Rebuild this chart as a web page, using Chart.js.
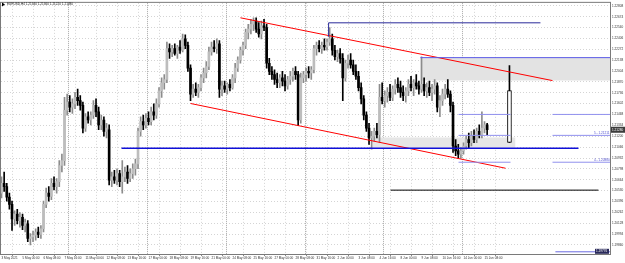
<!DOCTYPE html>
<html><head><meta charset="utf-8">
<script src="https://cdn.jsdelivr.net/npm/chart.js@4.4.0/dist/chart.umd.min.js"></script>
<style>html,body{margin:0;padding:0;background:#fff;overflow:hidden}canvas{display:block}</style>
</head><body>
<canvas id="c" width="625" height="263"></canvas>
<script>
// ---- data (EURUSD H4) ----
const openP = [
1.2050,1.2062,1.2058,1.2045,1.2036,1.2018,1.2024,1.2016,1.2020,1.2010,
1.2012,1.1994,1.1996,1.1998,1.2002,1.1999,1.2006,1.2036,1.2050,1.2046,
1.2062,1.2058,1.2064,1.2084,1.2090,1.2152,1.2162,1.2156,1.2160,1.2168,
1.2164,1.2158,1.2130,1.2144,1.2140,1.2146,1.2158,1.2150,1.2134,1.2140,
1.2126,1.2128,1.2066,1.2070,1.2066,1.2074,1.2064,1.2070,1.2076,1.2068,
1.2074,1.2080,1.2086,1.2126,1.2138,1.2134,1.2142,1.2138,1.2150,1.2146,
1.2160,1.2176,1.2186,1.2190,1.2228,1.2224,1.2228,1.2222,1.2230,1.2226,
1.2240,1.2232,1.2204,1.2172,1.2178,1.2174,1.2180,1.2192,1.2198,1.2206,
1.2224,1.2230,1.2228,1.2234,1.2178,1.2182,1.2178,1.2184,1.2180,1.2192,
1.2204,1.2214,1.2226,1.2232,1.2248,1.2252,1.2258,1.2262,1.2252,1.2246,
1.2256,1.2254,1.2210,1.2200,1.2196,1.2190,1.2186,1.2192,1.2188,1.2182,
1.2190,1.2194,1.2200,1.2196,1.2140,1.2192,1.2196,1.2200,1.2198,1.2202,
1.2228,1.2232,1.2228,1.2232,1.2230,1.2236,1.2240,1.2226,1.2218,1.2222,
1.2216,1.2192,1.2210,1.2214,1.2208,1.2200,1.2194,1.2180,1.2166,1.2146,
1.2130,1.2118,1.2120,1.2126,1.2122,1.2168,1.2164,1.2170,1.2174,1.2168,
1.2178,1.2184,1.2180,1.2174,1.2170,1.2176,1.2184,1.2180,1.2186,1.2182,
1.2178,1.2184,1.2176,1.2180,1.2174,1.2178,1.2182,1.2156,1.2164,1.2172,
1.2178,1.2172,1.2158,1.2108,1.2102,1.2098,1.2102,1.2108,1.2116,1.2112,
1.2120,1.2116,1.2126,1.2122,1.2130,1.2134];
const highP = [
1.2070,1.2076,1.2062,1.2050,1.2040,1.2028,1.2030,1.2026,1.2024,1.2018,
1.2016,1.2000,1.2003,1.2006,1.2008,1.2010,1.2040,1.2056,1.2058,1.2068,
1.2070,1.2068,1.2090,1.2098,1.2168,1.2172,1.2170,1.2166,1.2174,1.2178,
1.2170,1.2162,1.2148,1.2150,1.2150,1.2164,1.2166,1.2156,1.2146,1.2144,
1.2136,1.2134,1.2076,1.2078,1.2080,1.2078,1.2090,1.2082,1.2084,1.2080,
1.2086,1.2092,1.2130,1.2144,1.2146,1.2148,1.2150,1.2156,1.2160,1.2166,
1.2180,1.2192,1.2196,1.2236,1.2234,1.2232,1.2234,1.2232,1.2238,1.2246,
1.2245,1.2236,1.2208,1.2184,1.2186,1.2184,1.2196,1.2204,1.2212,1.2230,
1.2236,1.2238,1.2240,1.2238,1.2188,1.2188,1.2186,1.2190,1.2196,1.2210,
1.2218,1.2230,1.2236,1.2252,1.2258,1.2264,1.2266,1.2266,1.2260,1.2262,
1.2264,1.2258,1.2216,1.2206,1.2202,1.2198,1.2196,1.2200,1.2196,1.2194,
1.2200,1.2204,1.2206,1.2200,1.2198,1.2200,1.2204,1.2206,1.2206,1.2232,
1.2236,1.2238,1.2236,1.2240,1.2240,1.2254,1.2246,1.2232,1.2226,1.2228,
1.2222,1.2214,1.2220,1.2222,1.2214,1.2208,1.2200,1.2186,1.2170,1.2150,
1.2136,1.2126,1.2130,1.2136,1.2184,1.2186,1.2176,1.2180,1.2184,1.2182,
1.2190,1.2192,1.2188,1.2182,1.2180,1.2190,1.2194,1.2190,1.2196,1.2188,
1.2218,1.2192,1.2186,1.2188,1.2184,1.2190,1.2186,1.2170,1.2178,1.2184,
1.2190,1.2176,1.2162,1.2116,1.2110,1.2106,1.2112,1.2120,1.2124,1.2126,
1.2128,1.2130,1.2134,1.2150,1.2138,1.2136];
const lowP = [
1.2044,1.2052,1.2040,1.2030,1.2004,1.2010,1.2012,1.2008,1.2005,1.2002,
1.1990,1.1986,1.1990,1.1992,1.1995,1.1994,1.2002,1.2032,1.2040,1.2042,
1.2054,1.2050,1.2058,1.2076,1.2084,1.2146,1.2150,1.2148,1.2154,1.2158,
1.2152,1.2124,1.2126,1.2136,1.2134,1.2142,1.2144,1.2128,1.2128,1.2120,
1.2118,1.2060,1.2058,1.2062,1.2060,1.2058,1.2050,1.2064,1.2062,1.2064,
1.2068,1.2072,1.2080,1.2120,1.2128,1.2130,1.2134,1.2134,1.2140,1.2142,
1.2156,1.2168,1.2178,1.2186,1.2216,1.2218,1.2220,1.2216,1.2222,1.2224,
1.2228,1.2200,1.2164,1.2168,1.2170,1.2168,1.2176,1.2186,1.2192,1.2202,
1.2220,1.2224,1.2222,1.2168,1.2170,1.2174,1.2172,1.2176,1.2178,1.2186,
1.2200,1.2210,1.2220,1.2228,1.2240,1.2246,1.2250,1.2248,1.2242,1.2240,
1.2250,1.2204,1.2196,1.2190,1.2184,1.2180,1.2180,1.2182,1.2176,1.2178,
1.2184,1.2188,1.2190,1.2133,1.2136,1.2186,1.2188,1.2192,1.2190,1.2198,
1.2220,1.2224,1.2222,1.2226,1.2226,1.2232,1.2220,1.2214,1.2212,1.2210,
1.2164,1.2188,1.2204,1.2204,1.2196,1.2190,1.2176,1.2160,1.2140,1.2126,
1.2110,1.2104,1.2114,1.2118,1.2112,1.2160,1.2156,1.2162,1.2164,1.2164,
1.2172,1.2174,1.2168,1.2164,1.2162,1.2170,1.2176,1.2170,1.2178,1.2172,
1.2174,1.2170,1.2168,1.2170,1.2164,1.2172,1.2150,1.2144,1.2158,1.2166,
1.2168,1.2150,1.2100,1.2096,1.2093,1.2093,1.2098,1.2104,1.2106,1.2108,
1.2112,1.2112,1.2118,1.2118,1.2124,1.2122];
const closeP = [
1.2062,1.2058,1.2045,1.2036,1.2018,1.2024,1.2016,1.2020,1.2010,1.2014,
1.1994,1.1996,1.1998,1.2002,1.1999,1.2006,1.2036,1.2050,1.2046,1.2062,
1.2058,1.2064,1.2084,1.2090,1.2152,1.2162,1.2156,1.2160,1.2168,1.2164,
1.2158,1.2130,1.2144,1.2140,1.2146,1.2158,1.2150,1.2134,1.2140,1.2126,
1.2130,1.2066,1.2070,1.2066,1.2074,1.2064,1.2070,1.2076,1.2068,1.2074,
1.2080,1.2086,1.2126,1.2138,1.2134,1.2142,1.2138,1.2150,1.2146,1.2160,
1.2176,1.2186,1.2190,1.2228,1.2224,1.2228,1.2222,1.2230,1.2226,1.2240,
1.2232,1.2204,1.2172,1.2178,1.2174,1.2180,1.2192,1.2198,1.2206,1.2224,
1.2230,1.2228,1.2234,1.2178,1.2182,1.2178,1.2184,1.2180,1.2192,1.2204,
1.2214,1.2226,1.2232,1.2248,1.2252,1.2258,1.2262,1.2252,1.2246,1.2256,
1.2254,1.2210,1.2200,1.2196,1.2190,1.2186,1.2192,1.2188,1.2182,1.2190,
1.2194,1.2200,1.2196,1.2140,1.2192,1.2196,1.2200,1.2198,1.2202,1.2228,
1.2232,1.2228,1.2232,1.2230,1.2236,1.2240,1.2226,1.2218,1.2222,1.2216,
1.2192,1.2210,1.2214,1.2208,1.2200,1.2194,1.2180,1.2166,1.2146,1.2130,
1.2118,1.2120,1.2126,1.2122,1.2168,1.2164,1.2170,1.2174,1.2168,1.2178,
1.2184,1.2180,1.2174,1.2170,1.2176,1.2184,1.2180,1.2186,1.2182,1.2178,
1.2184,1.2176,1.2180,1.2174,1.2178,1.2182,1.2156,1.2164,1.2172,1.2178,
1.2172,1.2158,1.2108,1.2102,1.2098,1.2102,1.2108,1.2116,1.2112,1.2120,
1.2116,1.2126,1.2122,1.2130,1.2134,1.2128];

const dateLabels = ["3 May 2021","5 May 00:00","6 May 08:00","7 May 16:00","11 May 00:00","12 May 08:00",
"13 May 16:00","17 May 00:00","18 May 08:00","19 May 16:00","21 May 00:00","24 May 08:00",
"25 May 16:00","27 May 00:00","28 May 08:00","31 May 16:00","2 Jun 00:00","3 Jun 08:00",
"4 Jun 16:00","8 Jun 00:00","9 Jun 08:00","10 Jun 16:00","14 Jun 00:00","15 Jun 08:00"];
const dateLabelBars = [0,8,16,24,32,40,48,56,64,72,80,88,96,104,112,120,128,136,144,152,160,168,176,184];
const priceTicks = [1.22808,1.22674,1.22540,1.22406,1.22272,1.22138,1.22004,1.21870,1.21736,1.21602,
1.21468,1.21334,1.21200,1.21066,1.20932,1.20798,1.20664,1.20530,1.20396,1.20262,1.20128,1.19994,1.19860];
const weekStartBars = [26,56,86,116,146,176];
const symbolTitle = "EURUSD,H4 1.21340 1.21360 1.21220 1.21280";

// drawn objects (bar index, price)
const chanUpX = [91.0, 209.9], chanUpY = [1.22660, 1.21886];
const chanLoX = [72.0, 192.0], chanLoY = [1.21604, 1.20806];
const supportX = [45.7, 219.8], supportY = 1.21051;
const bracketX = [124.6, 124.6, 205.3], bracketY = [1.22426, 1.22598, 1.22598];
const zoneTopX = [159.6, 231.8], zoneTopHi = 1.22169, zoneTopLo = 1.21886;
const zoneMidX = [141.3, 195.8], zoneMidHi = 1.21186, zoneMidLo = 1.21051;
const blackLineX = [148.2, 227.4], blackLineY = 1.20536;
const fibX1 = [174.1, 193.9], fibX2 = [209.9, 231.8];
const fibY = [1.21469, 1.21211, 1.20880];
const fibLabels = ["5 - 1.21211", "4 - 1.20880"];
const projX = 193.5, projOpen = 1.21125, projClose = 1.21764, projHigh = 1.22070, projLow = 1.21125;
const bottomLineX = [211.0, 231.8], bottomLineY = 1.19776;

// ---- build ----
const n = closeP.length;
const wickData = [], bodyData = [], bodyCol = [], wickCol = [];
for (let i = 0; i < n; i++) {
  wickData.push({x: i, y: [lowP[i], highP[i]]});
  const o = openP[i], c = closeP[i];
  bodyData.push({x: i, y: [o, c === o ? c + 0.00003 : c]});
  const bull = c >= o;
  bodyCol.push(bull ? '#bdbdbd' : '#000000');
  wickCol.push(bull ? '#8c8c8c' : '#000000');
}
const seg = (xs, ys, color, w, extra) => Object.assign({
  type: 'line', data: xs.map((x, k) => ({x, y: Array.isArray(ys) ? ys[k] : ys})),
  borderColor: color, borderWidth: w, pointRadius: 0, fill: false, order: 0, tension: 0
}, extra || {});

const datasets = [
  seg(zoneTopX, zoneTopHi, 'rgba(0,0,0,0)', 0, {fill: {value: zoneTopLo}, backgroundColor: '#e3e3e3', order: 9}),
  seg(zoneMidX, zoneMidHi, 'rgba(0,0,0,0)', 0, {fill: {value: zoneMidLo}, backgroundColor: '#e6e6e6', order: 9}),
  {type: 'bar', data: wickData, backgroundColor: wickCol, barThickness: 1, grouped: false, order: 3},
  {type: 'bar', data: bodyData, backgroundColor: bodyCol, barThickness: 2, grouped: false, order: 2},
  {type: 'bar', data: [{x: projX, y: [projLow, projHigh]}], backgroundColor: '#000', barThickness: 1, grouped: false, order: 2},
  {type: 'bar', data: [{x: projX, y: [projOpen, projClose]}], backgroundColor: '#fff', borderColor: '#000', borderWidth: 1, borderSkipped: false, barThickness: 4, grouped: false, order: 1},
  seg(zoneTopX, zoneTopHi, '#5a5ae6', 1),
  seg(fibX1, fibY[0], '#9090ee', 1), seg(fibX2, fibY[0], '#9090ee', 1),
  seg(fibX1, fibY[1], '#9090ee', 1), seg(fibX2, fibY[1], '#9090ee', 1),
  seg(fibX1, fibY[2], '#9090ee', 1), seg(fibX2, fibY[2], '#9090ee', 1),
  seg(supportX, supportY, '#1010d8', 1.5),
  seg(bracketX, bracketY, '#2a2a9a', 1),
  seg(blackLineX, blackLineY, '#000000', 1),
  seg(bottomLineX, bottomLineY, '#6a6ae0', 1),
  seg(chanUpX, chanUpY, '#ff0000', 1),
  seg(chanLoX, chanLoY, '#ff0000', 1)
];

const font = {family: 'Liberation Sans, Arial, sans-serif', size: 3.1};

const overlay = {
  id: 'overlay',
  beforeDatasetsDraw(chart) {
    const {ctx, chartArea: a, scales: {x}} = chart;
    ctx.save();
    ctx.strokeStyle = '#a8a8a8'; ctx.lineWidth = 1; ctx.setLineDash([1, 1]);
    weekStartBars.forEach(b => {
      const px = Math.round(x.getPixelForValue(b - 0.5)) + 0.5;
      ctx.beginPath(); ctx.moveTo(px, a.top); ctx.lineTo(px, a.bottom); ctx.stroke();
    });
    ctx.restore();
  },
  afterDraw(chart) {
    const {ctx, chartArea: a, scales: {y}} = chart;
    ctx.save();
    ctx.strokeStyle = '#7a7a7a'; ctx.lineWidth = 1;
    ctx.strokeRect(a.left - 0.5, a.top - 0.5, a.right - a.left + 1, a.bottom - a.top + 1);
    // title
    ctx.fillStyle = '#000';
    ctx.beginPath(); ctx.moveTo(2, 2.5); ctx.lineTo(5, 4.5); ctx.lineTo(2, 6.5); ctx.fill();
    ctx.font = '3.1px Liberation Sans, Arial, sans-serif';
    ctx.textBaseline = 'middle'; ctx.fillStyle = '#202020';
    ctx.fillText(symbolTitle, 7, 4.6);
    // fib labels
    ctx.fillStyle = '#5050d0';
    fibLabels.forEach((t, k) => {
      const py = y.getPixelForValue(fibY[k + 1]);
      ctx.fillText(t, 594, py - 2);
    });
    // current price box
    const last = closeP[n - 1];
    const py = y.getPixelForValue(last);
    ctx.fillStyle = '#3c3c3c';
    ctx.fillRect(611, py - 3, 14, 6);
    ctx.fillStyle = '#ffffff';
    ctx.fillText(last.toFixed(5), 612, py + 0.2);
    // bottom line box
    const pb = y.getPixelForValue(bottomLineY);
    ctx.fillStyle = '#2a2a5a';
    ctx.fillRect(595, pb - 3, 14, 5);
    ctx.fillStyle = '#ffffff';
    ctx.fillText(bottomLineY.toFixed(5), 596, pb - 0.4);
    ctx.restore();
  }
};

new Chart(document.getElementById('c'), {
  type: 'bar',
  data: {datasets},
  options: {
    responsive: false, animation: false, events: [],
    layout: {padding: {left: 1, top: 2, right: 0, bottom: 0}},
    plugins: {legend: {display: false}, tooltip: {enabled: false}, title: {display: false}},
    scales: {
      x: {
        type: 'linear', min: -0.2, max: 231.8, offset: false,
        afterFit(s) { s.height = 9; },
        afterBuildTicks(s) { s.ticks = dateLabelBars.map(v => ({value: v})); },
        grid: {color: '#d4d4d4', lineWidth: 1, drawTicks: true, tickLength: 2, tickColor: '#888'},
        border: {display: false, dash: [1, 2]},
        ticks: {autoSkip: false, maxRotation: 0, align: 'start', padding: 0, color: '#303030', font,
          callback: v => dateLabels[dateLabelBars.indexOf(v)] || ''}
      },
      y: {
        type: 'linear', position: 'right', min: 1.19749, max: 1.22844,
        afterFit(s) { s.width = 15; },
        afterBuildTicks(s) { s.ticks = priceTicks.map(v => ({value: v})); },
        grid: {color: '#d4d4d4', lineWidth: 1, drawTicks: true, tickLength: 1, tickColor: '#888'},
        border: {display: false, dash: [1, 2]},
        ticks: {padding: 1, color: '#303030', font, callback: v => v.toFixed(5)}
      }
    }
  },
  plugins: [overlay]
});
</script>
</body></html>
